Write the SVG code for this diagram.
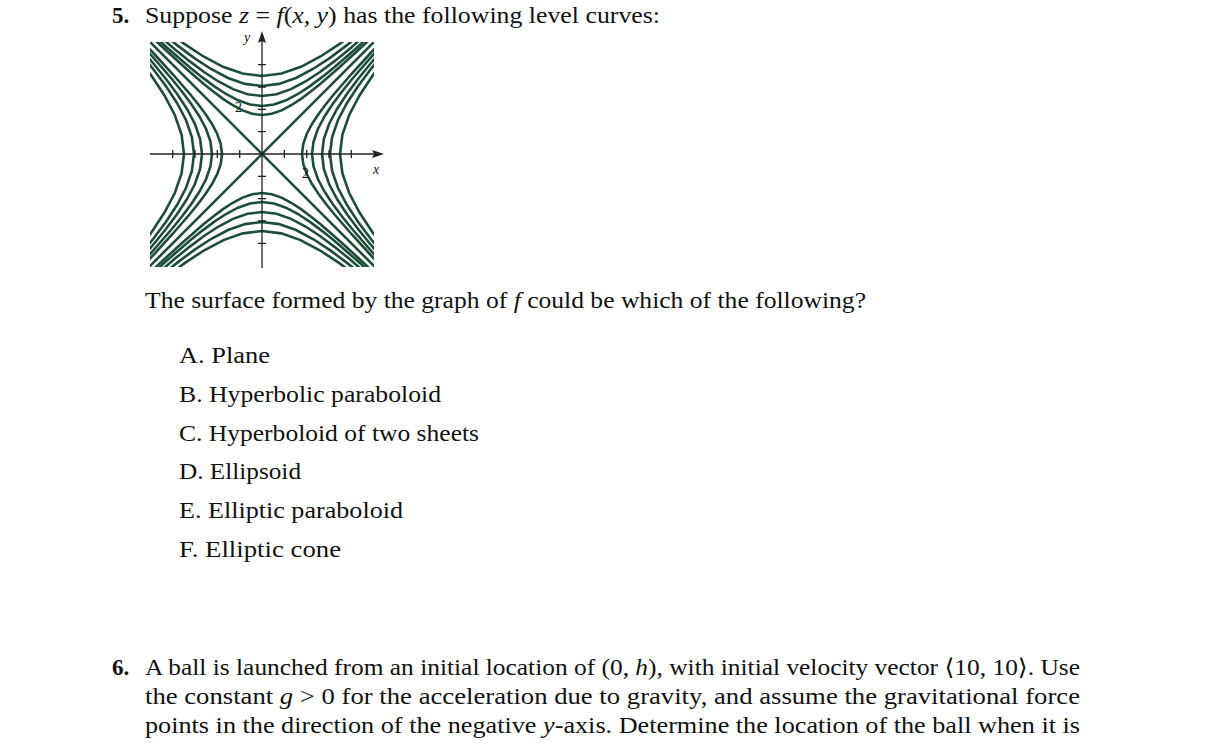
<svg xmlns="http://www.w3.org/2000/svg" xmlns:xlink="http://www.w3.org/1999/xlink" width="1224" height="745" viewBox="0 0 1224 745">
<style>
text{font-family:"Liberation Serif","DejaVu Serif",serif;font-size:23px;fill:#111}
.i{font-style:italic}
.b{font-weight:bold}
.c{fill:none;stroke:#1d4d38;stroke-width:2.6}
.ax{stroke:#222;stroke-width:1.3;fill:none}
.sm{font-size:14px}
</style>
<defs>
<clipPath id="box"><rect x="150" y="42" width="224" height="225"/></clipPath>
<path id="h" d="M-6,-6.083L-5,-5.099L-4,-4.123L-3,-3.162L-2.5,-2.693L-2,-2.236L-1.5,-1.803L-1.25,-1.601L-1,-1.414L-0.75,-1.25L-0.5,-1.118L-0.25,-1.031L0,-1L0.25,-1.031L0.5,-1.118L0.75,-1.25L1,-1.414L1.25,-1.601L1.5,-1.803L2,-2.236L2.5,-2.693L3,-3.162L4,-4.123L5,-5.099L6,-6.083" class="c" vector-effect="non-scaling-stroke"/>
</defs>
<text x="112" y="23" class="b">5.</text>
<text x="145" y="23" textLength="515" lengthAdjust="spacingAndGlyphs">Suppose <tspan class="i">z</tspan> = <tspan class="i">f</tspan>(<tspan class="i">x, y</tspan>) has the following level curves:</text>
<g id="plot">
<g clip-path="url(#box)">
<g transform="translate(262,154)">
<use xlink:href="#h" transform="scale(39)"/><use xlink:href="#h" transform="scale(48)"/><use xlink:href="#h" transform="scale(58)"/><use xlink:href="#h" transform="scale(68)"/><use xlink:href="#h" transform="scale(78)"/>
<use xlink:href="#h" transform="scale(39,-39)"/><use xlink:href="#h" transform="scale(48,-48)"/><use xlink:href="#h" transform="scale(58,-58)"/><use xlink:href="#h" transform="scale(68,-68)"/><use xlink:href="#h" transform="scale(77,-77)"/>
<use xlink:href="#h" transform="rotate(90) scale(40)"/><use xlink:href="#h" transform="rotate(90) scale(50)"/><use xlink:href="#h" transform="rotate(90) scale(60)"/><use xlink:href="#h" transform="rotate(90) scale(68)"/><use xlink:href="#h" transform="rotate(90) scale(78)"/>
<use xlink:href="#h" transform="rotate(-90) scale(40)"/><use xlink:href="#h" transform="rotate(-90) scale(50)"/><use xlink:href="#h" transform="rotate(-90) scale(60)"/><use xlink:href="#h" transform="rotate(-90) scale(68)"/><use xlink:href="#h" transform="rotate(-90) scale(78)"/>
<path class="c" d="M-120,-120L120,120M-120,120L120,-120"/>
</g>
</g>
<path class="ax" d="M150,154H378M262,268V38"/>
<path d="M384,154L372,150L374,154L372,158Z" fill="#222"/>
<path d="M262,31L258,43L262,41L266,43Z" fill="#222"/>
<path class="ax" d="M172.7,150v8M195,150v8M217.3,150v8M239.7,150v8M284.3,150v8M306.7,150v8M329,150v8M351.3,150v8M258,64.7h8M258,87h8M258,109.3h8M258,131.7h8M258,176.3h8M258,198.7h8M258,221h8M258,243.3h8"/>
<text x="244" y="42" class="i sm">y</text>
<text x="373" y="174" class="i sm">x</text>
<text x="235" y="112" class="sm">2</text>
<text x="302" y="178" class="sm">2</text>
</g>
<text x="145" y="308" textLength="721" lengthAdjust="spacingAndGlyphs">The surface formed by the graph of <tspan class="i">f</tspan> could be which of the following?</text>
<text x="179" y="363" textLength="91" lengthAdjust="spacingAndGlyphs">A. Plane</text>
<text x="179" y="402" textLength="262" lengthAdjust="spacingAndGlyphs">B. Hyperbolic paraboloid</text>
<text x="179" y="441" textLength="300" lengthAdjust="spacingAndGlyphs">C. Hyperboloid of two sheets</text>
<text x="179" y="479" textLength="122" lengthAdjust="spacingAndGlyphs">D. Ellipsoid</text>
<text x="179" y="518" textLength="224" lengthAdjust="spacingAndGlyphs">E. Elliptic paraboloid</text>
<text x="179" y="557" textLength="162" lengthAdjust="spacingAndGlyphs">F. Elliptic cone</text>
<text x="112" y="675" class="b">6.</text>
<text x="145" y="675" textLength="935" lengthAdjust="spacingAndGlyphs">A ball is launched from an initial location of (0, <tspan class="i">h</tspan>), with initial velocity vector ⟨10, 10⟩. Use</text>
<text x="145" y="704" textLength="935" lengthAdjust="spacingAndGlyphs">the constant <tspan class="i">g</tspan> &gt; 0 for the acceleration due to gravity, and assume the gravitational force</text>
<text x="145" y="733" textLength="935" lengthAdjust="spacingAndGlyphs">points in the direction of the negative <tspan class="i">y</tspan>-axis. Determine the location of the ball when it is</text>
</svg>
